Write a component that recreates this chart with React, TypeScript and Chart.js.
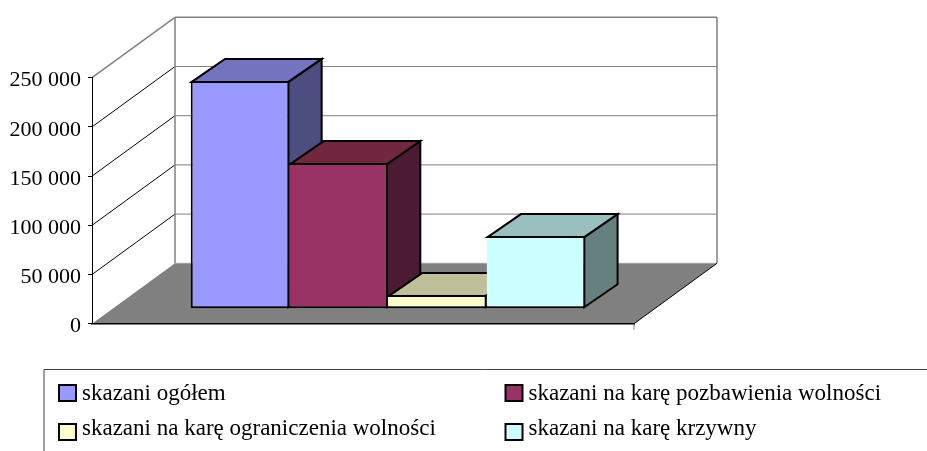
import React, { useEffect, useRef } from "react";
import { Chart, registerables } from "chart.js";

Chart.register(...registerables);

const categories = ["skazani"];
const seriesLabels = [
  "skazani ogółem",
  "skazani na karę pozbawienia wolności",
  "skazani na karę ograniczenia wolności",
  "skazani na karę krzywny",
];
const ogolem = [231500];
const pozbawienia = [148000];
const ograniczenia = [14000];
const krzywny = [73800];
const seriesValues = [ogolem, pozbawienia, ograniczenia, krzywny];
const seriesColors = ["#9999FF", "#993366", "#FFFFCC", "#CCFFFF"];
const topColors = ["#7373BF", "#732640", "#BFBF99", "#99BFBF"];
const sideColors = ["#4D4D80", "#4D1A33", "#808066", "#668080"];

const FONT = '"Liberation Serif", serif';
const TICK_FONT_SIZE = 22;
const LEGEND_FONT_SIZE = 23;
const WALL = { dx: 83, dy: -60.4 };
const BAR_SHIFT = { dx: 25, dy: -15 };
const BAR_DEPTH = { dx: 33.3, dy: -23 };
const BAR_LINE = 2;
const LEGEND_SLOTS = [
  { x: 59, y: 385, textY: 394 },
  { x: 505.5, y: 385, textY: 394 },
  { x: 59, y: 424, textY: 429 },
  { x: 505.5, y: 424, textY: 429 },
];

function poly(ctx: CanvasRenderingContext2D, pts: number[][], fill: string | null, stroke: string | null, lw = 1) {
  ctx.beginPath();
  pts.forEach((p, i) => (i ? ctx.lineTo(p[0], p[1]) : ctx.moveTo(p[0], p[1])));
  if (fill) {
    ctx.closePath();
    ctx.fillStyle = fill;
    ctx.fill();
  }
  if (stroke) {
    ctx.strokeStyle = stroke;
    ctx.lineWidth = lw;
    ctx.lineJoin = "miter";
    ctx.stroke();
  }
}

const wallsPlugin = {
  id: "walls3d",
  beforeDraw(chart: any) {
    const { ctx, chartArea: a, scales } = chart;
    const y = scales.y;
    const { dx, dy } = WALL;
    ctx.save();
    // floor
    poly(ctx, [[a.left, a.bottom], [a.right, a.bottom], [a.right + dx, a.bottom + dy], [a.left + dx, a.bottom + dy]], "#808080", null);
    // gridlines: back wall and side wall
    y.ticks.forEach((t: any) => {
      const py = y.getPixelForValue(t.value);
      if (t.value === 0) return;
      const isTop = t.value === y.max;
      poly(ctx, [[a.left + dx, py + dy], [a.right + dx, py + dy]], null, "#808080", isTop ? 1.5 : 1);
      poly(ctx, [[a.left, py], [a.left + dx, py + dy]], null, isTop ? "#808080" : "#000000", isTop ? 1.5 : 1);
    });
    // floor back edge and wall verticals
    poly(ctx, [[a.left + dx, a.bottom + dy], [a.right + dx, a.bottom + dy]], null, "#a0a0a0", 1);
    poly(ctx, [[a.left + dx, a.top + dy], [a.left + dx, a.bottom + dy]], null, "#808080", 1.5);
    poly(ctx, [[a.right + dx, a.top + dy], [a.right + dx, a.bottom + dy]], null, "#808080", 1.5);
    // floor right edge and end tick
    poly(ctx, [[a.right, a.bottom], [a.right + dx, a.bottom + dy]], null, "#000000", 1);
    poly(ctx, [[a.right, a.bottom], [a.right, a.bottom + 6]], null, "#808080", 1);
    ctx.restore();
  },
  beforeDatasetsDraw(chart: any) {
    const { ctx } = chart;
    ctx.save();
    ctx.translate(BAR_SHIFT.dx, BAR_SHIFT.dy);
    // side and top faces first, series by series; the library's bars then draw the front faces over them
    chart.getSortedVisibleDatasetMetas().forEach((meta: any) => {
      const i = meta.index;
      const inset = BAR_LINE / 2;
      meta.data.forEach((bar: any) => {
        const l = bar.x - bar.width / 2 + inset;
        const r = bar.x + bar.width / 2 - inset;
        const t = bar.y + inset;
        const b = bar.base - inset;
        const { dx, dy } = BAR_DEPTH;
        poly(ctx, [[r, t], [r + dx, t + dy], [r + dx, b + dy], [r, b]], sideColors[i], "#000000", BAR_LINE);
        poly(ctx, [[l, t], [l + dx, t + dy], [r + dx, t + dy], [r, t]], topColors[i], "#000000", BAR_LINE);
      });
    });
  },
  afterDatasetsDraw(chart: any) {
    chart.ctx.restore();
  },
  afterDraw(chart: any) {
    const { ctx, width, height } = chart;
    ctx.save();
    // legend frame (open to the right and bottom)
    poly(ctx, [[44, height], [44, 369.5], [width, 369.5]], null, "#404040", 1);
    ctx.font = `${LEGEND_FONT_SIZE}px ${FONT}`;
    ctx.textBaseline = "middle";
    ctx.textAlign = "left";
    chart.data.datasets.forEach((ds: any, i: number) => {
      const s = LEGEND_SLOTS[i];
      ctx.fillStyle = ds.backgroundColor;
      ctx.fillRect(s.x, s.y, 17, 16);
      ctx.strokeStyle = "#000000";
      ctx.lineWidth = 2;
      ctx.strokeRect(s.x, s.y, 17, 16);
      ctx.fillStyle = "#000000";
      ctx.fillText(ds.label, s.x + 23, s.textY);
    });
    ctx.restore();
  },
};

export default function App() {
  const ref = useRef<HTMLCanvasElement>(null);
  useEffect(() => {
    const chart = new Chart(ref.current as HTMLCanvasElement, {
      type: "bar",
      data: {
        labels: categories,
        datasets: seriesLabels.map((label, i) => ({
          label,
          data: seriesValues[i],
          backgroundColor: seriesColors[i],
          borderColor: "#000000",
          borderWidth: { top: BAR_LINE, bottom: BAR_LINE, left: i === 0 ? BAR_LINE : 0, right: BAR_LINE },
          borderSkipped: false,
          categoryPercentage: 0.728,
          barPercentage: 1,
          clip: false as any,
        })),
      },
      options: {
        responsive: false,
        animation: false,
        devicePixelRatio: 1,
        layout: { padding: { left: 0, top: 77.7, right: 927 - 634, bottom: 451 - 323.7 } },
        plugins: { legend: { display: false }, tooltip: { enabled: false }, title: { display: false } },
        events: [],
        scales: {
          x: {
            grid: { display: false },
            border: { color: "#000000", width: 1.5 },
            ticks: { display: false },
            afterFit: (s: any) => { s.height = 0; },
          } as any,
          y: {
            min: 0,
            max: 250000,
            grid: { drawOnChartArea: false, tickLength: 4, color: "#000000" },
            border: { color: "#000000", width: 1 },
            ticks: {
              stepSize: 50000,
              color: "#000000",
              padding: 7,
              labelOffset: 3,
              font: { family: FONT, size: TICK_FONT_SIZE },
              callback: (v: any) => (v === 0 ? "0" : `${v / 1000} 000`),
            },
            afterFit: (s: any) => { s.width = 92; },
          },
        },
      } as any,
      plugins: [wallsPlugin],
    });
    return () => chart.destroy();
  }, []);
  return (
    <canvas
      ref={ref}
      width={927}
      height={451}
      style={{ position: "fixed", left: 0, top: 0, width: 927, height: 451, display: "block", background: "#ffffff" }}
    />
  );
}
